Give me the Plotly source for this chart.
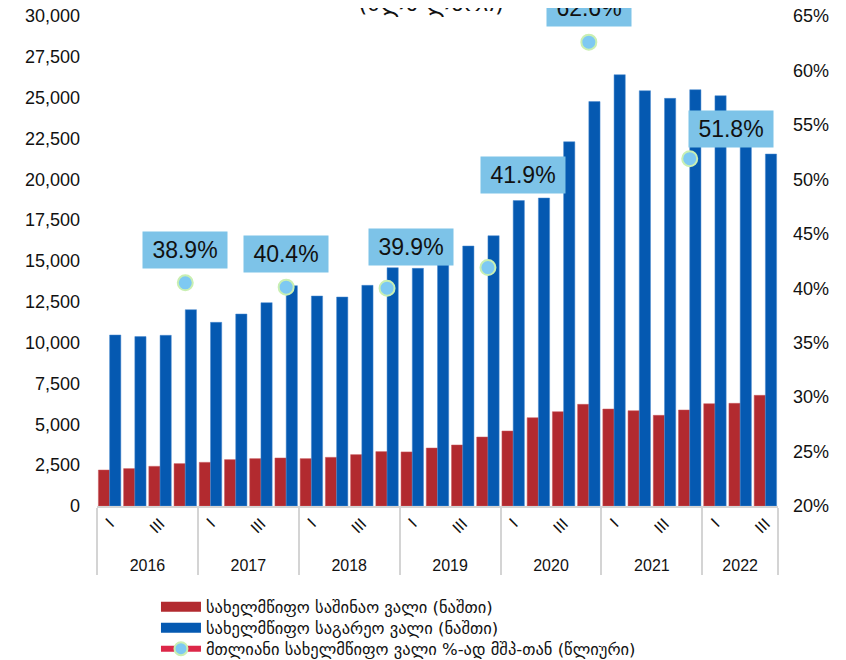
import plotly.graph_objects as go

years = ["2016"] * 4 + ["2017"] * 4 + ["2018"] * 4 + ["2019"] * 4 + ["2020"] * 4 + ["2021"] * 4 + ["2022"] * 3
quarter_labels = ["I", "\u200b", "III", "\u200b\u200b"]
quarters = (quarter_labels * 7)[:27]

domestic_debt = [2204, 2290, 2430, 2595, 2673, 2840, 2900, 2940,
                 2900, 2980, 3145, 3330, 3310, 3550, 3735, 4224,
                 4592, 5408, 5776, 6224, 5939, 5837, 5551, 5878,
                 6265, 6286, 6776]
external_debt = [10470, 10370, 10450, 12020, 11245, 11755, 12450, 13490,
                 12857, 12796, 13510, 14590, 14551, 14750, 15918, 16548,
                 18700, 18857, 22303, 24760, 26406, 25427, 24957, 25488,
                 25121, 22800, 21549]

ratio_years = ["2016", "2017", "2018", "2019", "2020", "2021"]
ratio_quarter = quarter_labels[3]
ratio_values = [40.5, 40.1, 40.0, 41.9, 62.6, 51.9]
ratio_labels = ["38.9%", "40.4%", "39.9%", "41.9%", "62.6%", "51.8%"]

name_dom = "სახელმწიფო საშინაო ვალი (ნაშთი)"
name_ext = "სახელმწიფო საგარეო ვალი (ნაშთი)"
name_ratio = "მთლიანი სახელმწიფო ვალი %-ად მშპ-თან (წლიური)"
unit_title = "(მლნ ლარი)"

RED = "#B22A2F"
BLUE = "#0559B1"
LINE = "#DC2748"
MK = "#7EC9F2"
MK_EDGE = "#C9EFB2"
LABEL_BG = "#7DC3E8"

FONT = "Liberation Sans, Arial, DejaVu Sans, sans-serif"

fig = go.Figure()
fig.add_trace(go.Bar(x=[years, quarters], y=domestic_debt, name=name_dom, showlegend=False,
                     marker=dict(color=RED, line=dict(color="#c9585c", width=0.5))))
fig.add_trace(go.Bar(x=[years, quarters], y=external_debt, name=name_ext, showlegend=False,
                     marker=dict(color=BLUE, line=dict(color="#4b8ad0", width=0.5))))
fig.add_trace(go.Scatter(x=[ratio_years, [ratio_quarter] * len(ratio_years)], y=ratio_values,
                         yaxis="y2", mode="markers", showlegend=False,
                         marker=dict(size=15, color=MK, line=dict(color=MK_EDGE, width=2))))

# legend entries (wide swatches like the reference), one legend per row
fig.add_trace(go.Scatter(x=[[years[0]], [quarters[0]]], y=[None], mode="lines", name=name_dom,
                         line=dict(color=RED, width=11), legend="legend"))
fig.add_trace(go.Scatter(x=[[years[0]], [quarters[0]]], y=[None], mode="lines", name=name_ext,
                         line=dict(color=BLUE, width=11), legend="legend2"))
fig.add_trace(go.Scatter(x=[[ratio_years[0]], [ratio_quarter]], y=[None], yaxis="y2",
                         mode="lines+markers", name=name_ratio, legend="legend3",
                         line=dict(color=LINE, width=6),
                         marker=dict(size=13, color=MK, line=dict(color=MK_EDGE, width=2))))

# category index positions for labels
cat_index = {(y, q): i for i, (y, q) in enumerate(zip(years, quarters))}
shifts = [(0, 33), (0, 33), (24, 41), (35, 93), (0, 34), (41, 30)]
for yr, val, lab, (dx, dy) in zip(ratio_years, ratio_values, ratio_labels, shifts):
    fig.add_annotation(x=cat_index[(yr, ratio_quarter)], y=val, xref="x", yref="y2",
                       text=lab, showarrow=False, xanchor="center", yanchor="middle",
                       xshift=dx, yshift=dy, bgcolor=LABEL_BG, borderpad=5,
                       width=74, height=26,
                       font=dict(size=23, color="#111111", family=FONT))

fig.add_annotation(x=0.49, y=0.994, xref="paper", yref="paper", text=unit_title,
                   showarrow=False, xanchor="center", yanchor="bottom",
                   font=dict(size=24, color="#111111", family="DejaVu Sans"))

fig.add_shape(type="rect", xref="paper", yref="paper",
              x0=(842 - 97) / 681, x1=(850 - 97) / 681, y0=(506 - 200) / 490, y1=1.05,
              fillcolor="black", line=dict(width=0))

leg_common = dict(x=0.0866, xanchor="left", yanchor="middle", orientation="v",
                  font=dict(size=16.5, family="DejaVu Sans", color="#111111"),
                  bgcolor="rgba(0,0,0,0)", itemwidth=40)

fig.update_layout(
    width=846, height=652,
    margin=dict(l=89, r=76, t=8, b=154, autoexpand=False),
    paper_bgcolor="white", plot_bgcolor="white",
    barmode="group", bargap=0.11, bargroupgap=0,
    font=dict(family=FONT, size=18, color="#111111"),
    xaxis=dict(type="multicategory", showgrid=False, showline=True, linecolor="#D4D4D4",
               linewidth=2, ticks="", tickangle=-45, dividercolor="#D4D4D4", dividerwidth=2,
               tickfont=dict(size=16, color="#111111"), automargin=False),
    yaxis=dict(range=[0, 30000], dtick=2500, tickformat=",", showgrid=False, zeroline=False,
               showline=False, ticks="", ticklabelstandoff=16, automargin=False,
               ticklabeloverflow="allow"),
    yaxis2=dict(range=[20, 65], dtick=5, ticksuffix="%", overlaying="y", side="right",
                showgrid=False, zeroline=False, showline=False, ticks="", ticklabelstandoff=14,
                automargin=False, ticklabeloverflow="allow"),
    legend=dict(y=(506 - 607) / 490, **leg_common),
    legend2=dict(y=(506 - 628) / 490, **leg_common),
    legend3=dict(y=(506 - 649) / 490, **leg_common),
    showlegend=True,
)

fig.write_html("out.html")
